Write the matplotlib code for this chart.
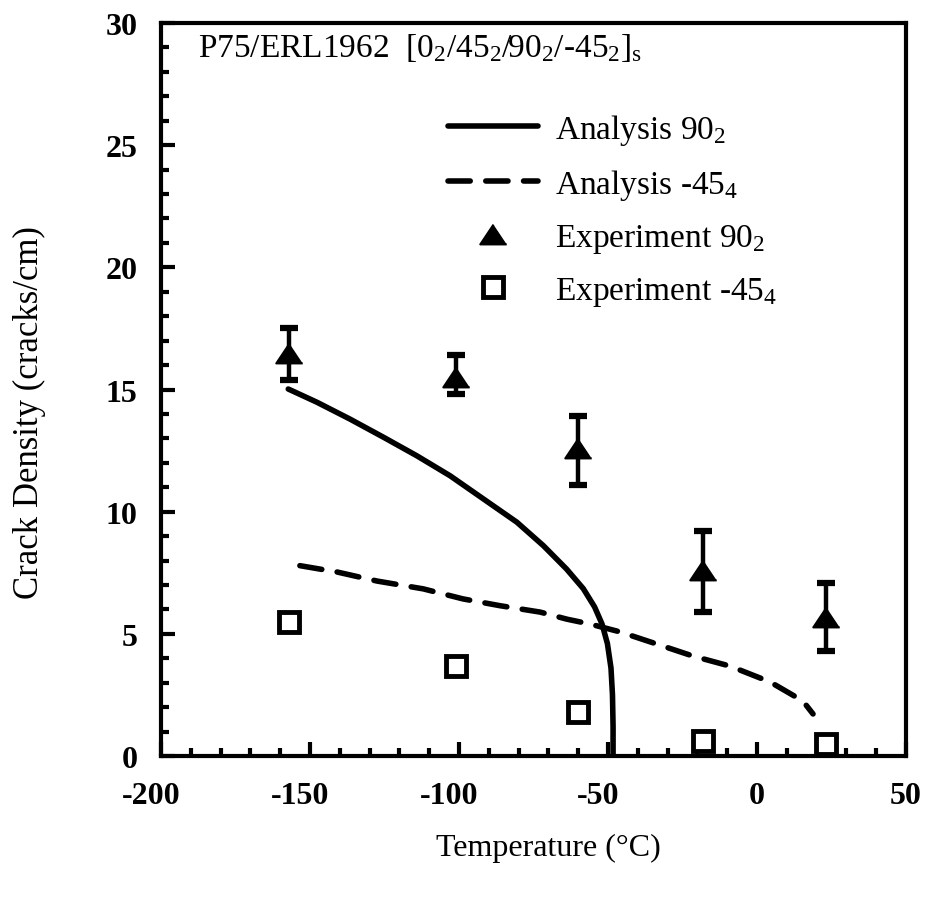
import numpy as np
import matplotlib.pyplot as plt
import matplotlib.transforms as mtransforms
from matplotlib.ticker import MultipleLocator

plt.rcParams['font.family'] = ['Liberation Serif', 'DejaVu Serif']
plt.rcParams['mathtext.fontset'] = 'custom'
plt.rcParams['mathtext.rm'] = 'Liberation Serif'
plt.rcParams['mathtext.it'] = 'Liberation Serif'
plt.rcParams['mathtext.default'] = 'regular'
plt.rcParams['axes.unicode_minus'] = False

# experiments (temperature in C, crack density in cracks/cm)
temp_exp = [-157, -101, -60, -18, 23]
crack_90 = [16.5, 15.5, 12.6, 7.6, 5.7]
crack_90_hi = [17.5, 16.4, 13.9, 9.2, 7.1]
crack_90_lo = [15.4, 14.8, 11.1, 5.9, 4.3]
crack_45 = [5.5, 3.7, 1.8, 0.6, 0.5]

# analysis curves
temp_an90 = [-157.3, -147.7, -136.6, -125.4, -114.2, -103.0, -91.8, -80.6,
             -71.7, -63.9, -58.3, -54.5, -52.0, -50.2, -49.0, -48.5, -48.3, -48.3]
crack_an90 = [15.02, 14.48, 13.79, 13.05, 12.29, 11.47, 10.52, 9.57,
              8.61, 7.65, 6.85, 6.1, 5.4, 4.6, 3.6, 2.5, 1.2, 0.0]
temp_an45 = [-153.4, -140.9, -127.5, -112.0, -98.7, -86.2, -72.8, -63.8,
             -56.0, -46.0, -33.6, -21.5, -9.1, 4.4, 15.4, 18.8]
crack_an45 = [7.79, 7.53, 7.16, 6.84, 6.43, 6.15, 5.89, 5.6,
              5.4, 5.08, 4.58, 4.09, 3.68, 3.03, 2.25, 1.72]

fig = plt.figure(figsize=(9.28, 9.03), dpi=100)
ax = fig.add_axes([0.1735, 0.1617, 0.8028, 0.8117])

ax.plot(temp_an90, crack_an90, color='black', lw=4, solid_capstyle='round',
        solid_joinstyle='round', label='Analysis 90$_2$')
ax.plot(temp_an45, crack_an45, color='black', lw=4, dashes=(4, 2.8),
        dash_capstyle='round', label='Analysis -45$_4$')

tri = [(0, 0.75), (-1, -0.75), (1, -0.75)]
yerr = [np.array(crack_90) - np.array(crack_90_lo),
        np.array(crack_90_hi) - np.array(crack_90)]
ax.errorbar(temp_exp, crack_90, yerr=yerr, fmt='none', ecolor='black',
            elinewidth=3.2, capsize=6.5, capthick=4.5)
ax.plot(temp_exp, crack_90, ls='none', marker=tri, ms=19, color='black',
        mew=1.5, label='Experiment 90$_2$')
ax.plot(temp_exp, crack_45, ls='none', marker='s', ms=15, mfc='white',
        mec='black', mew=3.5, label='Experiment -45$_4$')

ax.set_xlim(-200, 50)
ax.set_ylim(0, 30)
ax.xaxis.set_major_locator(MultipleLocator(50))
ax.xaxis.set_minor_locator(MultipleLocator(10))
ax.yaxis.set_major_locator(MultipleLocator(5))
ax.yaxis.set_minor_locator(MultipleLocator(1))
ax.tick_params(which='both', direction='in', top=False, right=False, width=3)
ax.tick_params(which='major', length=10)
ax.tick_params(which='minor', length=5.5)
ax.tick_params(axis='x', which='major', pad=18, labelsize=23)
ax.tick_params(axis='y', which='major', pad=17, labelsize=23)
for lab in ax.get_xticklabels() + ax.get_yticklabels():
    lab.set_fontweight('bold')
for sp in ax.spines.values():
    sp.set_linewidth(3)

# negative labels sit a little left of their ticks in the original
shift = mtransforms.ScaledTranslation(-0.10, 0, fig.dpi_scale_trans)
fig.canvas.draw()
for tick in ax.xaxis.get_major_ticks():
    if tick.get_loc() < 0:
        tick.label1.set_transform(tick.label1.get_transform() + shift)

ax.set_xlabel('Temperature (°C)', fontsize=23)
ax.xaxis.set_label_coords(0.52, -0.105)
ax.set_ylabel('Crack Density (cracks/cm)', fontsize=25)
ax.yaxis.set_label_coords(-0.154, 0.47)

ax.text(0.05, 0.955, 'P75/ERL1962  [0$_2$/45$_2$/90$_2$/-45$_2$]$_s$',
        transform=ax.transAxes, fontsize=24, va='baseline', ha='left')

ax.legend(loc='upper left', bbox_to_anchor=(0.385, 0.879), frameon=False,
          fontsize=24, borderpad=0, handlelength=2.7, handletextpad=0.52,
          labelspacing=0.6, borderaxespad=0)

fig.savefig('out.png', dpi=100)
